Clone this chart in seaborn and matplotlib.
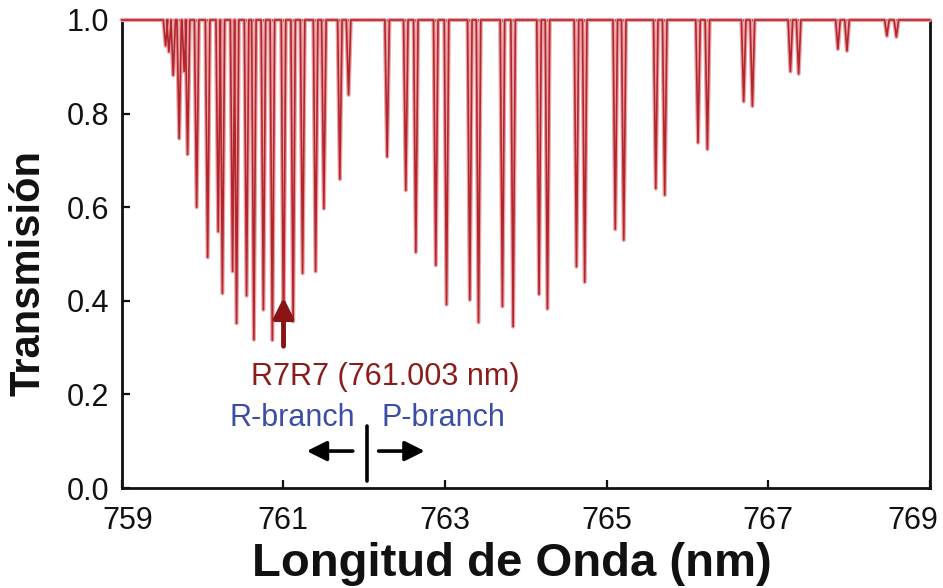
import matplotlib
matplotlib.use("Agg")
import matplotlib.pyplot as plt
import matplotlib.transforms as mtransforms
import seaborn as sns
import pandas as pd
import numpy as np

# ---- data ----
r_centers = [759.544, 759.585, 759.638, 759.712, 759.774, 759.816, 759.928, 760.064,
             760.195, 760.247, 760.373, 760.422, 760.546, 760.636, 760.754, 760.865,
             761.003, 761.122, 761.239, 761.400, 761.502, 761.700, 761.808]
r_trans = [0.945, 0.932, 0.882, 0.747, 0.890, 0.713, 0.600, 0.493,
           0.548, 0.416, 0.463, 0.352, 0.411, 0.317, 0.381, 0.316,
           0.310, 0.356, 0.459, 0.463, 0.597, 0.660, 0.840]
p_centers = [762.285, 762.516, 762.640, 762.887, 763.020, 763.308, 763.416, 763.712,
             763.844, 764.165, 764.269, 764.628, 764.730, 765.108, 765.213, 765.609,
             765.720, 766.132, 766.248, 766.697, 766.805, 767.275, 767.377, 767.863,
             767.975, 768.469, 768.586]
p_trans = [0.708, 0.636, 0.504, 0.476, 0.392, 0.402, 0.354, 0.388,
           0.345, 0.414, 0.383, 0.473, 0.440, 0.553, 0.530, 0.640,
           0.626, 0.738, 0.724, 0.826, 0.816, 0.890, 0.885, 0.938,
           0.934, 0.966, 0.964]
x_ticks = [759, 761, 763, 765, 767, 769]
y_ticks = [0.0, 0.2, 0.4, 0.6, 0.8, 1.0]
x_range = [759, 769]
r7_label = "R7R7 (761.003 nm)"
r7_center = 761.003
branch_split = 762.03

# ---- build the line path (each line as a narrow dip from the baseline) ----
half_w = 0.028
centers = r_centers + p_centers
trans = r_trans + p_trans
xs, ys = [x_range[0]], [1.0]
for c, t in sorted(zip(centers, trans)):
    xs += [c - half_w, c, c + half_w]
    ys += [1.0, t, 1.0]
xs.append(x_range[1]); ys.append(1.0)
df = pd.DataFrame({"wl": xs, "T": ys})

sns.set_theme(style="ticks")
plt.rcParams["font.family"] = ["Liberation Sans", "DejaVu Sans"]

fig = plt.figure(figsize=(9.43, 5.88), dpi=100)
ax = fig.add_axes([0.129, 0.170, 0.857, 0.796])

sns.lineplot(data=df, x="wl", y="T", sort=False, estimator=None, ax=ax,
             color="#eaa3a6", lw=3.0, zorder=3, clip_on=False)
sns.lineplot(data=df, x="wl", y="T", sort=False, estimator=None, ax=ax,
             color="#b3262e", lw=1.2, zorder=4, clip_on=False)

ax.set_xlim(*x_range)
ax.set_ylim(0, 1.0)
ax.set_xticks(x_ticks)
ax.set_yticks(y_ticks)
ax.set_yticklabels([f"{v:.1f}" for v in y_ticks], fontsize=22, color="#111111")
ax.set_xticklabels([str(v) for v in x_ticks], fontsize=22, color="#111111")
ax.tick_params(direction="in", length=6, width=1.6, colors="#111111")
ax.tick_params(axis="x", pad=13)
ax.tick_params(axis="y", pad=9)
for s in ax.spines.values():
    s.set_visible(True)
    s.set_linewidth(2.0)
    s.set_color("#111111")

# first and last x tick labels sit slightly inward in the reference
xl = ax.get_xticklabels()
xl[0].set_transform(xl[0].get_transform() +
                    mtransforms.ScaledTranslation(6 / 100, 0, fig.dpi_scale_trans))
xl[-1].set_transform(xl[-1].get_transform() +
                     mtransforms.ScaledTranslation(-17 / 100, 0, fig.dpi_scale_trans))

ax.set_xlabel("Longitud de Onda (nm)", fontsize=34, fontweight="bold", color="#111111")
ax.set_ylabel("Transmisión", fontsize=30, fontweight="bold", color="#111111")
ax.xaxis.set_label_coords(0.483, -0.116)
ax.yaxis.set_label_coords(-0.091, 0.46)

# annotations
ax.annotate("", xy=(r7_center, 0.407), xytext=(r7_center, 0.303),
            arrowprops=dict(arrowstyle="-|>", color="#8a1414", lw=3.5,
                            mutation_scale=30, shrinkA=0, shrinkB=0), zorder=6)
ax.text(762.26, 0.238, r7_label, color="#8b1c1c", fontsize=22,
        ha="center", va="center", zorder=6)
ax.text(761.89, 0.132, "R-branch", color="#3b4ea6", fontsize=22,
        ha="right", va="baseline")
ax.text(762.22, 0.132, "P-branch", color="#3b4ea6", fontsize=22,
        ha="left", va="baseline")
ax.plot([branch_split, branch_split], [0.016, 0.132], color="black", lw=2.6)
ax.annotate("", xy=(761.29, 0.079), xytext=(761.86, 0.079),
            arrowprops=dict(arrowstyle="-|>", color="black", lw=2.6,
                            mutation_scale=30, shrinkA=0, shrinkB=0))
ax.annotate("", xy=(762.75, 0.079), xytext=(762.18, 0.079),
            arrowprops=dict(arrowstyle="-|>", color="black", lw=2.6,
                            mutation_scale=30, shrinkA=0, shrinkB=0))

fig.savefig("out.png", dpi=100, facecolor="white")
